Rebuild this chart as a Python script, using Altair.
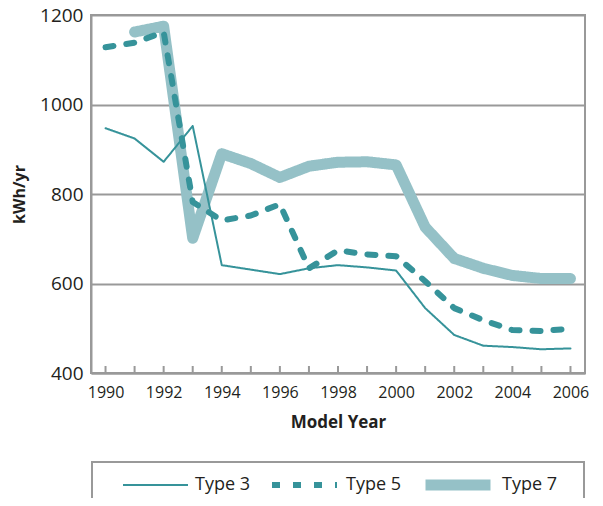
import altair as alt
import pandas as pd

years = list(range(1990, 2007))
type3 = [947, 924, 872, 952, 641, 631, 621, 634, 641, 636, 629, 545, 485, 461, 458, 453, 455]
type5 = [1128, 1138, 1162, 782, 741, 752, 777, 634, 674, 665, 661, 605, 545, 518, 496, 494, 499]
type7_years = list(range(1991, 2007))
type7 = [1162, 1175, 701, 890, 868, 837, 862, 871, 872, 865, 726, 656, 634, 618, 611, 611]

series = ["Type 3", "Type 5", "Type 7"]
colors = ["#36939a", "#36939a", "#95c1c7"]
widths = [2, 6, 11]
dashes = [[1, 0], [8, 13], [1, 0]]

rows = []
for y, v in zip(years, type3):
    rows.append({"year": y, "kwh": v, "type": "Type 3"})
for y, v in zip(years, type5):
    rows.append({"year": y, "kwh": v, "type": "Type 5"})
for y, v in zip(type7_years, type7):
    rows.append({"year": y, "kwh": v, "type": "Type 7"})
df = pd.DataFrame(rows)
ticks_df = pd.DataFrame({"year": years})

FONT = "Open Sans"
W, H = 494, 358

xscale = alt.Scale(domain=[1989.5, 2006.5], nice=False, zero=False)
yscale = alt.Scale(domain=[400, 1200], nice=False, zero=False)

leg = alt.Legend(title="x", titleOrient="right", titlePadding=4, titleFontSize=18,
                 titleColor="#ffffff", titleFont=FONT)

base = alt.Chart(df).encode(
    x=alt.X("year:Q", scale=xscale,
            axis=alt.Axis(title="Model Year", values=years, format="d",
                          labelExpr="datum.value % 2 == 0 ? datum.label : ''",
                          ticks=False, grid=False, domain=True,
                          domainColor="#999999", domainWidth=2,
                          labelFontSize=16, labelColor="#231f20", labelFont=FONT,
                          labelPadding=11,
                          titleFont=FONT, titleFontSize=17, titleFontWeight="bold",
                          titleColor="#231f20", titlePadding=14)),
    y=alt.Y("kwh:Q", scale=yscale,
            axis=alt.Axis(title="kWh/yr", values=[400, 600, 800, 1000, 1200], format="d",
                          ticks=False, grid=True, gridColor="#999999", gridWidth=2,
                          domain=True, domainColor="#999999", domainWidth=2,
                          labelFontSize=19, labelColor="#231f20", labelFont=FONT,
                          labelPadding=8,
                          titleFont=FONT, titleFontSize=16, titleFontWeight="bold",
                          titleColor="#231f20", titlePadding=12)),
    color=alt.Color("type:N", scale=alt.Scale(domain=series, range=colors), legend=leg),
    strokeWidth=alt.StrokeWidth("type:N", scale=alt.Scale(type="ordinal", domain=series, range=widths),
                                legend=leg),
    strokeDash=alt.StrokeDash("type:N", scale=alt.Scale(domain=series, range=dashes), legend=leg),
)

line7 = base.transform_filter(alt.datum.type == "Type 7").mark_line(strokeCap="round", strokeJoin="round")
line5 = base.transform_filter(alt.datum.type == "Type 5").mark_line(strokeCap="round", strokeJoin="round")
line3 = base.transform_filter(alt.datum.type == "Type 3").mark_line(strokeCap="round", strokeJoin="round")

ticks = alt.Chart(ticks_df).mark_rule(color="#999999", strokeWidth=2).encode(
    x=alt.X("year:Q", scale=xscale),
    y=alt.value(H),
    y2=alt.value(H - 7),
)

chart = alt.layer(ticks, line7, line5, line3).properties(
    width=W, height=H,
    autosize=alt.AutoSizeParams(type="none"),
    padding={"left": 83, "top": 7, "right": 10, "bottom": 125},
).configure_view(
    stroke="#999999", strokeWidth=2
).configure_legend(
    orient="none", legendX=1, legendY=447, direction="horizontal",
    symbolType="stroke", symbolSize=4225, clipHeight=22,
    padding=12, strokeColor="#999999", strokeWidth=2,
    symbolOffset=18, columnPadding=0, labelOffset=6,
    labelFont=FONT, labelFontSize=18, labelColor="#231f20",
)

chart.save("out.html", embed_options={"renderer": "svg", "actions": False})
